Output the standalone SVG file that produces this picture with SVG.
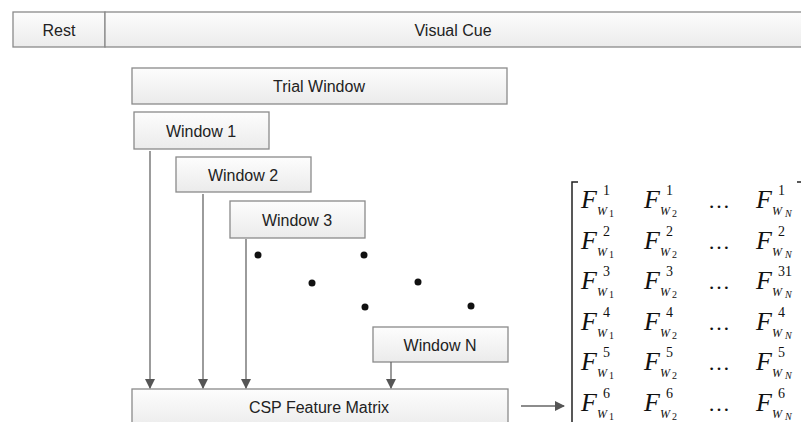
<svg xmlns="http://www.w3.org/2000/svg" width="801" height="422" viewBox="0 0 801 422">
<defs>
<linearGradient id="g" x1="0" y1="0" x2="0" y2="1">
<stop offset="0" stop-color="#fdfdfd"/>
<stop offset="1" stop-color="#ebebeb"/>
</linearGradient>
<marker id="ah" markerWidth="10" markerHeight="10" refX="9" refY="5" orient="auto" markerUnits="userSpaceOnUse">
<path d="M0,0 L10,5 L0,10 Z" fill="#555"/>
</marker>
</defs>
<style>
.box{fill:url(#g);stroke:#8a8a8a;stroke-width:1.3}
.lbl{font-family:"Liberation Sans",Arial,sans-serif;font-size:16px;fill:#222;text-anchor:middle}
.con{stroke:#666;stroke-width:1.3;fill:none;marker-end:url(#ah)}
.dot{fill:#111}
.m{font-family:"Liberation Serif","Times New Roman",serif;fill:#111}
.F{font-style:italic;font-size:26px}
.sup{font-size:14px}
.W{font-style:italic;font-size:12px}
.n{font-size:10px}
.ni{font-style:italic;font-size:10px}
.el{font-size:22px}
.br{stroke:#222;stroke-width:1.5;fill:none}
</style>
<rect width="801" height="422" fill="#fff"/>

<g id="rest"><rect class="box" x="13" y="12" width="92" height="35"/><text class="lbl" x="59" y="35.5">Rest</text></g>
<g id="visual-cue"><rect class="box" x="105" y="12" width="700" height="35"/><text class="lbl" x="453" y="35.5">Visual Cue</text></g>
<g id="trial-window"><rect class="box" x="132" y="68" width="375" height="36"/><text class="lbl" x="319" y="92">Trial Window</text></g>
<g id="window1"><rect class="box" x="134" y="112" width="135" height="37"/><text class="lbl" x="201" y="136.5">Window 1</text></g>
<g id="window2"><rect class="box" x="176" y="157" width="135" height="35"/><text class="lbl" x="243" y="180.5">Window 2</text></g>
<g id="window3"><rect class="box" x="230" y="201" width="135" height="37"/><text class="lbl" x="297" y="225.5">Window 3</text></g>
<g id="windowN"><rect class="box" x="373" y="327" width="135" height="35"/><text class="lbl" x="440" y="350.5">Window N</text></g>
<g id="csp"><rect class="box" x="132" y="389" width="376" height="40"/><text class="lbl" x="319" y="413">CSP Feature Matrix</text></g>

<g id="dots">
<circle class="dot" cx="258" cy="255" r="3.5"/>
<circle class="dot" cx="364" cy="255" r="3.5"/>
<circle class="dot" cx="312" cy="283" r="3.5"/>
<circle class="dot" cx="418" cy="282" r="3.5"/>
<circle class="dot" cx="365" cy="307" r="3.5"/>
<circle class="dot" cx="471" cy="306" r="3.5"/>
</g>

<g id="connectors">
<line class="con" x1="150" y1="151" x2="150" y2="388"/>
<line class="con" x1="203" y1="194" x2="203" y2="388"/>
<line class="con" x1="246" y1="239" x2="246" y2="388"/>
<line class="con" x1="391" y1="362" x2="391" y2="388"/>
<line class="con" x1="521" y1="406" x2="564" y2="406"/>
</g>

<g id="matrix" class="m">
<path class="br" d="M578,182 H572 V422"/>
<path class="br" d="M797,182 H801"/>
<g id="row1" transform="translate(0,200)">
<text class="F" x="581" y="8">F</text><text class="sup" x="603" y="-5">1</text><text class="W" x="597" y="15">W</text><text class="n" x="609" y="17">1</text>
<text class="F" x="644" y="8">F</text><text class="sup" x="666" y="-5">1</text><text class="W" x="660" y="15">W</text><text class="n" x="672" y="17">2</text>
<text class="el" x="708" y="8">…</text>
<text class="F" x="756" y="8">F</text><text class="sup" x="778" y="-5">1</text><text class="W" x="772" y="15">W</text><text class="ni" x="785" y="17">N</text>
</g>
<g id="row2" transform="translate(0,240.6)">
<text class="F" x="581" y="8">F</text><text class="sup" x="603" y="-5">2</text><text class="W" x="597" y="15">W</text><text class="n" x="609" y="17">1</text>
<text class="F" x="644" y="8">F</text><text class="sup" x="666" y="-5">2</text><text class="W" x="660" y="15">W</text><text class="n" x="672" y="17">2</text>
<text class="el" x="708" y="8">…</text>
<text class="F" x="756" y="8">F</text><text class="sup" x="778" y="-5">2</text><text class="W" x="772" y="15">W</text><text class="ni" x="785" y="17">N</text>
</g>
<g id="row3" transform="translate(0,281.2)">
<text class="F" x="581" y="8">F</text><text class="sup" x="603" y="-5">3</text><text class="W" x="597" y="15">W</text><text class="n" x="609" y="17">1</text>
<text class="F" x="644" y="8">F</text><text class="sup" x="666" y="-5">3</text><text class="W" x="660" y="15">W</text><text class="n" x="672" y="17">2</text>
<text class="el" x="708" y="8">…</text>
<text class="F" x="756" y="8">F</text><text class="sup" x="778" y="-5">31</text><text class="W" x="772" y="15">W</text><text class="ni" x="785" y="17">N</text>
</g>
<g id="row4" transform="translate(0,321.8)">
<text class="F" x="581" y="8">F</text><text class="sup" x="603" y="-5">4</text><text class="W" x="597" y="15">W</text><text class="n" x="609" y="17">1</text>
<text class="F" x="644" y="8">F</text><text class="sup" x="666" y="-5">4</text><text class="W" x="660" y="15">W</text><text class="n" x="672" y="17">2</text>
<text class="el" x="708" y="8">…</text>
<text class="F" x="756" y="8">F</text><text class="sup" x="778" y="-5">4</text><text class="W" x="772" y="15">W</text><text class="ni" x="785" y="17">N</text>
</g>
<g id="row5" transform="translate(0,362.4)">
<text class="F" x="581" y="8">F</text><text class="sup" x="603" y="-5">5</text><text class="W" x="597" y="15">W</text><text class="n" x="609" y="17">1</text>
<text class="F" x="644" y="8">F</text><text class="sup" x="666" y="-5">5</text><text class="W" x="660" y="15">W</text><text class="n" x="672" y="17">2</text>
<text class="el" x="708" y="8">…</text>
<text class="F" x="756" y="8">F</text><text class="sup" x="778" y="-5">5</text><text class="W" x="772" y="15">W</text><text class="ni" x="785" y="17">N</text>
</g>
<g id="row6" transform="translate(0,403)">
<text class="F" x="581" y="8">F</text><text class="sup" x="603" y="-5">6</text><text class="W" x="597" y="15">W</text><text class="n" x="609" y="17">1</text>
<text class="F" x="644" y="8">F</text><text class="sup" x="666" y="-5">6</text><text class="W" x="660" y="15">W</text><text class="n" x="672" y="17">2</text>
<text class="el" x="708" y="8">…</text>
<text class="F" x="756" y="8">F</text><text class="sup" x="778" y="-5">6</text><text class="W" x="772" y="15">W</text><text class="ni" x="785" y="17">N</text>
</g>
</g>
</svg>
